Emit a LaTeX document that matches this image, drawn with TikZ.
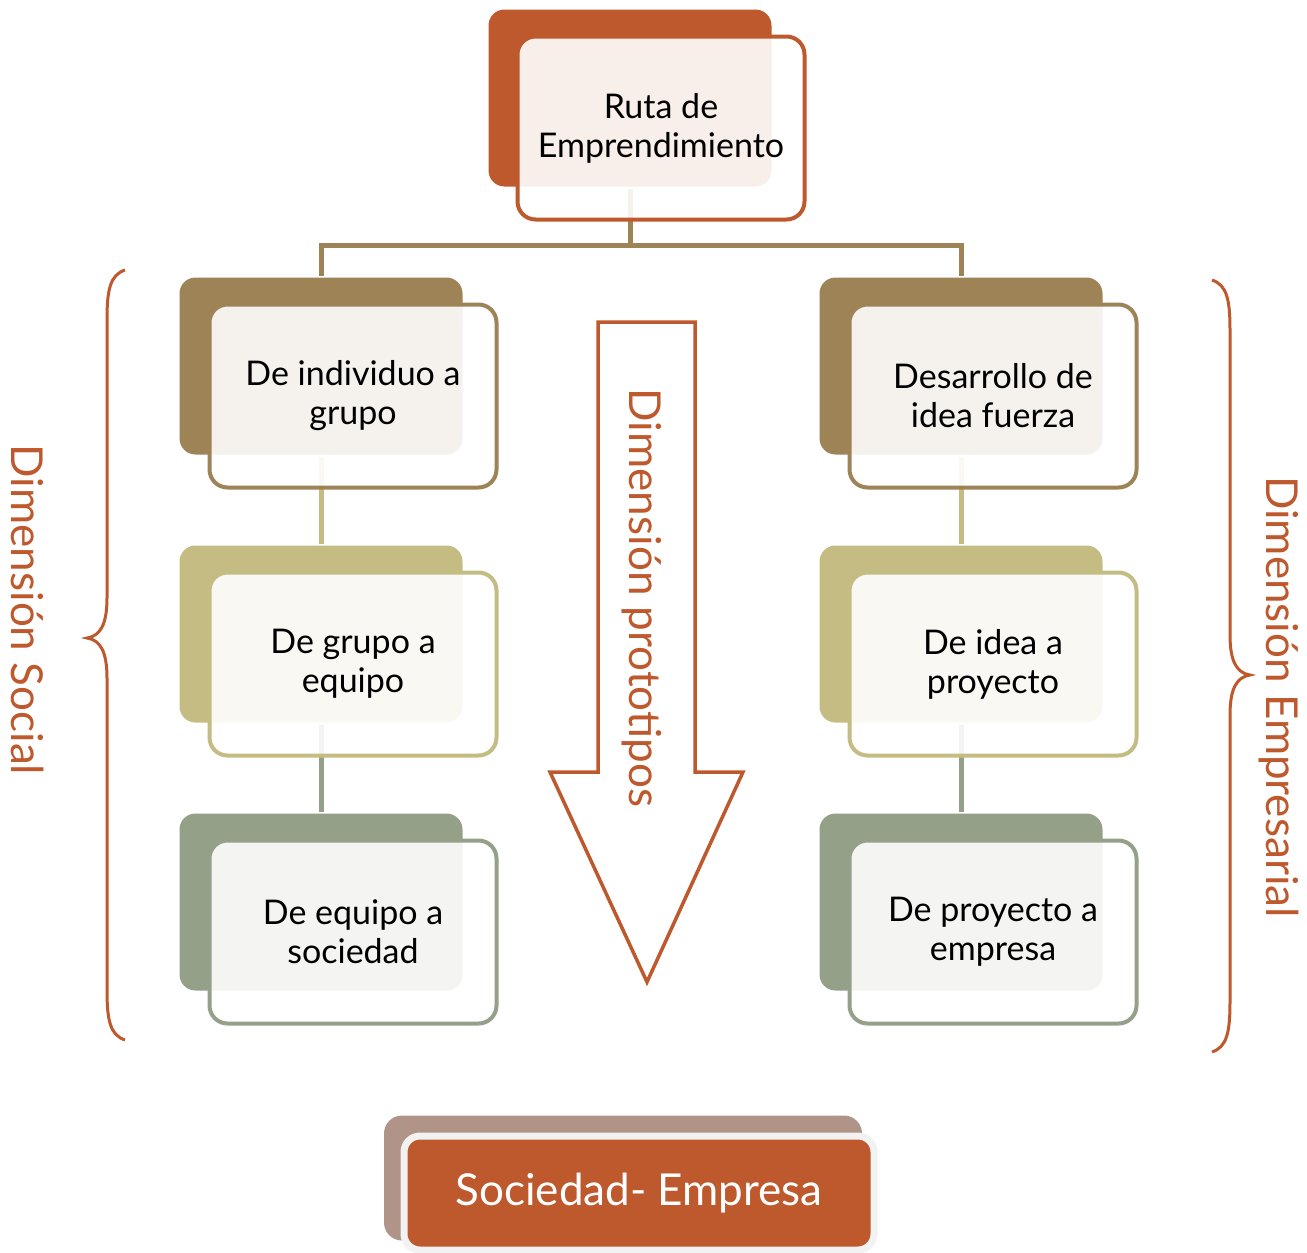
\documentclass[tikz,border=0pt]{standalone}
\usepackage{fontspec}
\setmainfont{Lato}
\usepackage{tikz}
\definecolor{naranja}{RGB}{190,88,45}
\definecolor{cafe}{RGB}{158,131,87}
\definecolor{caqui}{RGB}{196,188,130}
\definecolor{salvia}{RGB}{148,160,136}
\definecolor{rosado}{RGB}{176,148,136}
\definecolor{gris}{RGB}{242,242,242}

\begin{document}
\begin{tikzpicture}[x=1pt, y=-1pt, line width=4pt,
    back/.style={rounded corners=16pt, inner sep=0pt, minimum width=283pt, minimum height=177pt},
    front/.style={draw, rounded corners=18pt, fill=white, fill opacity=0.9, text opacity=1,
                  inner sep=0pt, minimum width=287pt, minimum height=183pt, align=center,
                  font=\fontsize{34}{39}\selectfont},
    conector/.style={line width=5pt},
    rotlabel/.style={rotate=-90, text=naranja, inner sep=0pt, font=\fontsize{44}{50}\selectfont}]
  \useasboundingbox (0,0) rectangle (1307,1253);

  \node[back, fill=naranja] (RutaBack) at (630,98) {};
    \node[back, fill=cafe] (IndivBack) at (321,366) {};
    \node[back, fill=caqui] (GrupoBack) at (321,634) {};
    \node[back, fill=salvia] (EquipoBack) at (321,902) {};
    \node[back, fill=cafe] (DesaBack) at (961,366) {};
    \node[back, fill=caqui] (IdeaBack) at (961,634) {};
    \node[back, fill=salvia] (ProyBack) at (961,902) {};

  \coordinate (Split) at (630,245);
  \draw[conector, cafe] (RutaBack.south) -- (Split) -| (IndivBack.north)
                                            (Split) -| (DesaBack.north);
  \draw[conector, caqui] (IndivBack.south) -- (GrupoBack.north) (DesaBack.south) -- (IdeaBack.north);
  \draw[conector, salvia] (GrupoBack.south) -- (EquipoBack.north) (IdeaBack.south) -- (ProyBack.north);

  \node[front, draw=naranja] (Ruta) at (661,128) {Ruta de\\Emprendimiento};
    \node[front, draw=cafe] (Indiv) at (353,396) {De individuo a\\grupo};
    \node[front, draw=caqui] (Grupo) at (353,664) {De grupo a\\equipo};
    \node[front, draw=salvia] (Equipo) at (353,932) {De equipo a\\sociedad};
    \node[front, draw=cafe] (Desa) at (993,396) {Desarrollo de\\idea fuerza};
    \node[front, draw=caqui] (Idea) at (993,664) {De idea a\\proyecto};
    \node[front, draw=salvia] (Proy) at (993,932) {De proyecto a\\empresa};

  \draw[naranja, line width=3.5pt, fill=white, line join=miter]
    (598,322) -- (695,322) -- (695,772) -- (743,772) -- (647,982) -- (550,772) -- (598,772) -- cycle;
  \node[rotlabel] (Proto) at (642,598) {Dimensión prototipos};

  \draw[naranja, line width=3pt]
    (125,270) .. controls (110,275) and (107,290) .. (107,320) -- (107,598)
    .. controls (107,625) and (100,636) .. (87,638) .. controls (100,640) and (107,651) .. (107,678)
    -- (107,990) .. controls (107,1020) and (110,1035) .. (125,1040);
  \node[rotlabel] (Social) at (28,610) {Dimensión Social};

  \draw[naranja, line width=3pt]
    (1212,280) .. controls (1227,285) and (1230,300) .. (1230,330) -- (1230,635)
    .. controls (1230,662) and (1237,673) .. (1250,675) .. controls (1237,677) and (1230,688) .. (1230,715)
    -- (1230,1002) .. controls (1230,1032) and (1227,1047) .. (1212,1052);
  \node[rotlabel] (Empresarial) at (1279,697) {Dimensión Empresarial};

  \node[rounded corners=18pt, fill=rosado, minimum width=478pt, minimum height=125pt] (SocBack) at (623,1178) {};
  \node[draw=gris, line width=7pt, rounded corners=16pt, fill=naranja, text=white,
        minimum width=470pt, minimum height=114pt, font=\fontsize{44}{50}\selectfont] (Soc) at (639,1193) {Sociedad- Empresa};
\end{tikzpicture}
\end{document}
